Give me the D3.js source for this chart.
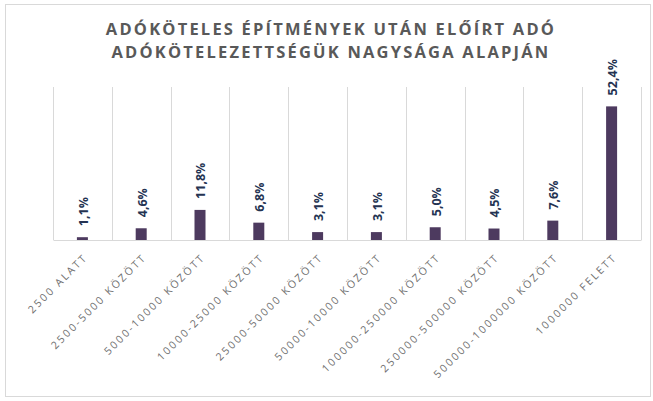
<!DOCTYPE html>
<html>
<head>
<meta charset="utf-8">
<script src="https://cdn.jsdelivr.net/npm/d3@7"></script>
<style>
  body { margin: 0; background: #fff; }
  text { font-family: "Open Sans", "Noto Sans", sans-serif; }
</style>
</head>
<body>
<div class="chart"></div>
<script>
// chart data
var categories = ["2500 ALATT", "2500-5000 KÖZÖTT", "5000-10000 KÖZÖTT", "10000-25000 KÖZÖTT",
  "25000-50000 KÖZÖTT", "50000-10000 KÖZÖTT", "100000-250000 KÖZÖTT", "250000-500000 KÖZÖTT",
  "500000-1000000 KÖZÖTT", "1000000 FELETT"];
var values = [1.1, 4.6, 11.8, 6.8, 3.1, 3.1, 5.0, 4.5, 7.6, 52.4];
var titleLines = ["ADÓKÖTELES ÉPÍTMÉNYEK UTÁN ELŐÍRT ADÓ", "ADÓKÖTELEZETTSÉGÜK NAGYSÁGA ALAPJÁN"];

var svgWidth = 653;
var svgHeight = 401;

var margin = { top: 87, right: 12, bottom: 161, left: 53 },
  chartWidth = svgWidth - margin.left - margin.right,
  chartHeight = svgHeight - margin.top - margin.bottom;

var svg = d3.select(".chart").append("svg")
  .attr("width", svgWidth)
  .attr("height", svgHeight);

// outer frame
svg.append("rect")
  .attr("x", 5.5).attr("y", 4.5)
  .attr("width", 645).attr("height", 392)
  .attr("fill", "#fff")
  .attr("stroke", "#d9d9d9");

// title
svg.append("text")
  .attr("text-anchor", "middle")
  .style("font-size", "16.5px")
  .style("font-weight", "bold")
  .style("letter-spacing", "2.2px")
  .attr("fill", "#595959")
  .selectAll("tspan")
  .data(titleLines)
  .enter()
  .append("tspan")
    .attr("x", 331)
    .attr("y", (d, i) => 35 + i * 23)
    .text(d => d);

var chartGroup = svg.append("g")
  .attr("transform", `translate(${margin.left}, ${margin.top})`);

var xScale = d3.scaleBand()
  .domain(categories)
  .range([0, chartWidth]);

var yScale = d3.scaleLinear()
  .domain([0, 60])
  .range([chartHeight, 0]);

// vertical gridlines between categories
var gridPos = categories.map(c => xScale(c)).concat([chartWidth]);
chartGroup.selectAll(".grid")
  .data(gridPos)
  .enter()
  .append("line")
  .attr("x1", d => Math.round(d) + 0.5)
  .attr("x2", d => Math.round(d) + 0.5)
  .attr("y1", 0)
  .attr("y2", chartHeight)
  .attr("stroke", "#d9d9d9");

// bars
var barWidth = 11;
chartGroup.selectAll(".bar")
  .data(values)
  .enter()
  .append("rect")
  .attr("x", (d, i) => xScale(categories[i]) + xScale.bandwidth() / 2 - barWidth / 2)
  .attr("y", d => yScale(d))
  .attr("width", barWidth)
  .attr("height", d => chartHeight - yScale(d))
  .attr("fill", "#4d3a5f");

// baseline axis
var bottomAxis = d3.axisBottom(xScale).tickSize(0).tickFormat("");
var xAxisG = chartGroup.append("g")
  .attr("transform", `translate(0, ${chartHeight})`)
  .call(bottomAxis);
xAxisG.select(".domain").attr("stroke", "#d9d9d9");

// category labels
chartGroup.selectAll(".cat")
  .data(categories)
  .enter()
  .append("text")
  .attr("transform", d => `translate(${xScale(d) + xScale.bandwidth() / 2 + 6}, ${chartHeight + 18}) rotate(-45)`)
  .attr("text-anchor", "end")
  .style("font-size", "10.5px")
  .style("letter-spacing", "2.2px")
  .attr("fill", "#6f6f6f")
  .text(d => d);

// value labels
chartGroup.selectAll(".val")
  .data(values)
  .enter()
  .append("text")
  .attr("transform", (d, i) => `translate(${xScale(categories[i]) + xScale.bandwidth() / 2 + 1}, ${yScale(d) - 11}) rotate(-90)`)
  .attr("text-anchor", "start")
  .attr("dy", "0.35em")
  .style("font-size", "12.5px")
  .style("font-weight", "bold")
  .attr("fill", "#243352")
  .text(d => d.toFixed(1).replace(".", ",") + "%");
</script>
</body>
</html>
